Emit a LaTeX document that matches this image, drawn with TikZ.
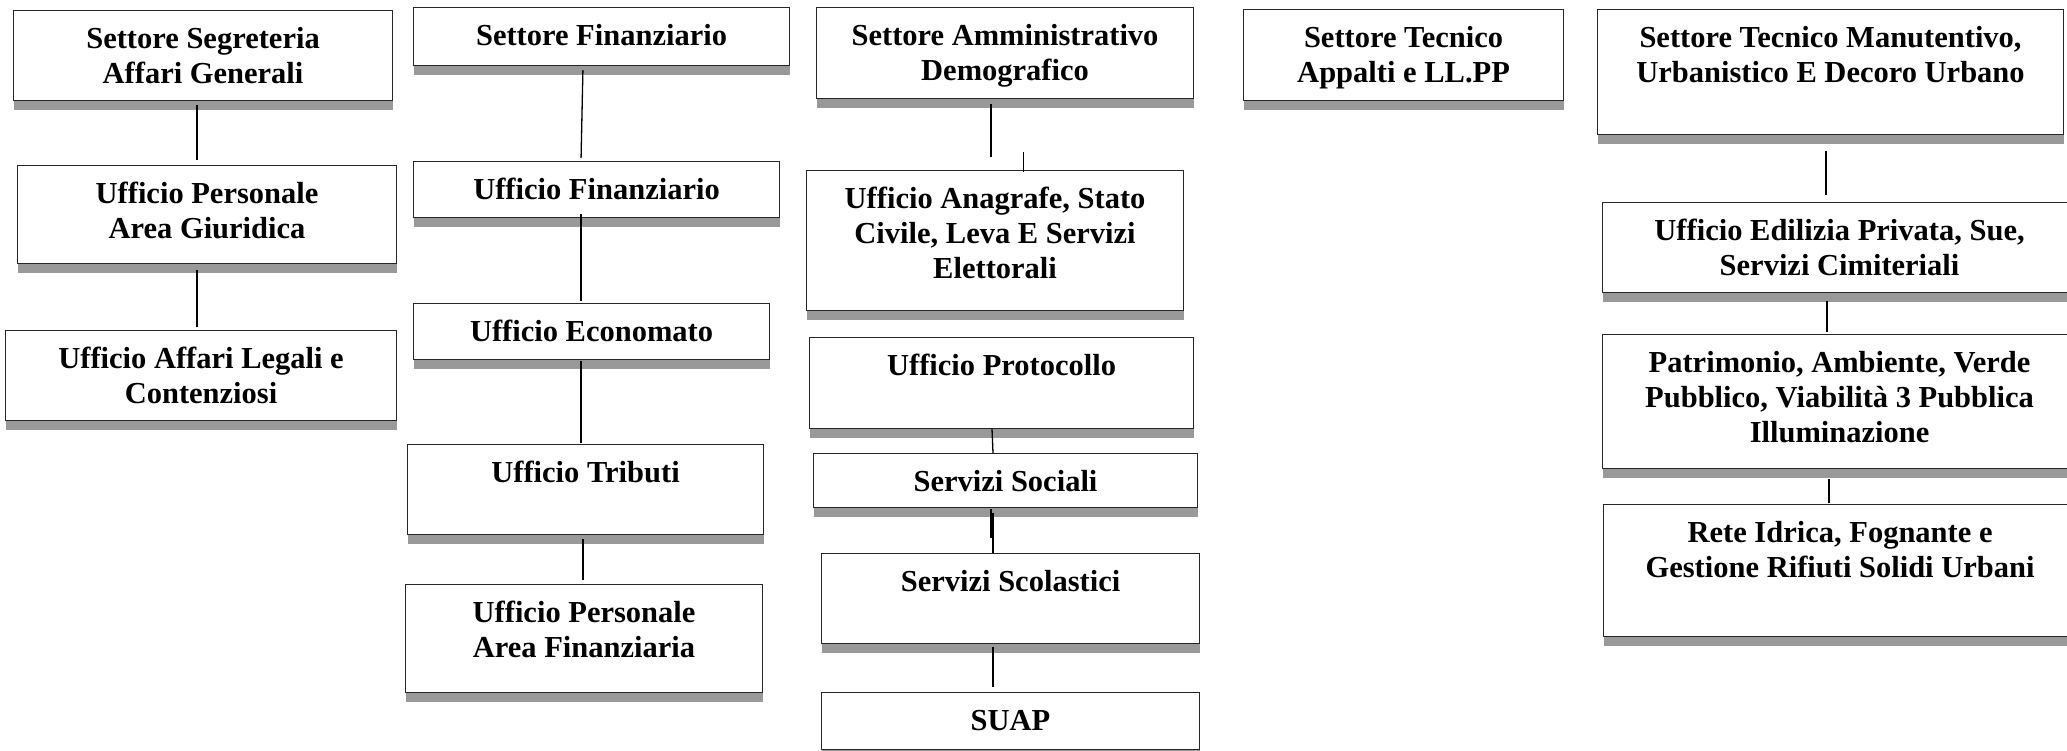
\documentclass[tikz,border=0pt]{standalone}
\usepackage{fontspec}
\setmainfont{Liberation Serif}
\usetikzlibrary{shadows}
\definecolor{shadowgray}{RGB}{153,153,153}
\newcommand{\boxfont}{\bfseries\fontsize{30.5}{35}\selectfont}
% #1 name, #2 x1, #3 y1, #4 x2, #5 y2, #6 text
\newcommand{\obox}[6]{%
  \node[orgbox, anchor=north west] (#1) at (#2,#3)
    {\parbox[c][\dimexpr #5pt-#3pt\relax][t]{\dimexpr #4pt-#2pt\relax}{\centering\boxfont\rule{0pt}{38pt}#6\par}};}
\begin{document}
\begin{tikzpicture}[x=1pt,y=-1pt,
  orgbox/.style={draw=black!85, line width=1.1pt, fill=white, inner sep=0pt,
    drop shadow={shadow xshift=0pt, shadow yshift=-9pt, fill=shadowgray, opacity=1}},
  conn/.style={draw=black, line width=1.3pt}]
\fill[white] (0,0) rectangle (2067,751);
\useasboundingbox (0,0) rectangle (2067,751);

% Column A
\obox{A1}{13}{10}{392}{100}{Settore Segreteria\\Affari Generali}
\obox{A2}{17}{165}{396}{263}{Ufficio Personale\\Area Giuridica}
\obox{A3}{5}{330}{396}{420}{Ufficio Affari Legali e\\Contenziosi}

% Column B
\obox{B1}{413}{7}{789}{65}{Settore Finanziario}
\obox{B2}{413}{161}{779}{217}{Ufficio Finanziario}
\obox{B3}{413}{303}{769}{359}{Ufficio Economato}
\obox{B4}{407}{444}{763}{534}{Ufficio Tributi}
\obox{B5}{405}{584}{762}{692}{Ufficio Personale\\Area Finanziaria}

% Column C
\obox{C1}{816}{7}{1193}{98}{Settore Amministrativo\\Demografico}
\obox{C2}{806}{170}{1183}{310}{Ufficio Anagrafe, Stato\\Civile, Leva E Servizi\\Elettorali}
\obox{C3}{809}{337}{1193}{428}{Ufficio Protocollo}
\obox{C4}{813}{453}{1197}{507}{Servizi Sociali}
\obox{C5}{821}{553}{1199}{643}{Servizi Scolastici}
\obox{C6}{821}{692}{1199}{749}{SUAP}

% Column D
\obox{D1}{1243}{9}{1563}{100}{Settore Tecnico\\Appalti e LL.PP}

% Column E
\obox{E1}{1597}{9}{2063}{134}{Settore Tecnico Manutentivo,\\Urbanistico E Decoro Urbano}
\obox{E2}{1602}{202}{2076}{292}{Ufficio Edilizia Privata, Sue,\\Servizi Cimiteriali}
\obox{E3}{1602}{334}{2076}{468}{Patrimonio, Ambiente, Verde\\Pubblico, Viabilità 3 Pubblica\\Illuminazione}
\obox{E4}{1603}{504}{2076}{636}{Rete Idrica, Fognante e\\Gestione Rifiuti Solidi Urbani}

% Connectors column A
\draw[conn, shorten <=4pt, shorten >=5pt] (197,0 |- A1.south) -- (197,0 |- A2.north);
\draw[conn, shorten <=6pt, shorten >=3pt] (197,0 |- A2.south) -- (197,0 |- A3.north);

% Connectors column B
\draw[conn, shorten <=4pt, shorten >=3pt] (583,0 |- B1.south) -- (581,0 |- B2.north);
\draw[conn, shorten <=-4pt, shorten >=2pt] (581,0 |- B2.south) -- (581,0 |- B3.north);
\draw[conn, shorten <=1pt, shorten >=1pt] (581,0 |- B3.south) -- (581,0 |- B4.north);
\draw[conn, shorten <=4pt, shorten >=4pt] (583,0 |- B4.south) -- (583,0 |- B5.north);

% Connectors column C
\draw[conn, shorten <=5pt, shorten >=13pt] (991,0 |- C1.south) -- (991,0 |- C2.north);
\draw[conn, line width=1pt, shorten <=53pt, shorten >=-2pt] (1023,0 |- C1.south) -- (1023,0 |- C2.north);
\draw[conn] (992,0 |- C3.south) -- (993,0 |- C4.north);
\draw[conn, shorten <=1pt, shorten >=15pt] (991,0 |- C4.south) -- (991,0 |- C5.north);
\draw[conn, shorten <=5pt] (993,0 |- C4.south) -- (993,0 |- C5.north);
\draw[conn, shorten <=3pt, shorten >=5pt] (993,0 |- C5.south) -- (993,0 |- C6.north);

% Connectors column E
\draw[conn, shorten <=16pt, shorten >=7pt] (1826,0 |- E1.south) -- (1826,0 |- E2.north);
\draw[conn, shorten <=8pt, shorten >=2pt] (1827,0 |- E2.south) -- (1827,0 |- E3.north);
\draw[conn, shorten <=10pt, shorten >=1pt] (1829,0 |- E3.south) -- (1829,0 |- E4.north);
\end{tikzpicture}
\end{document}
